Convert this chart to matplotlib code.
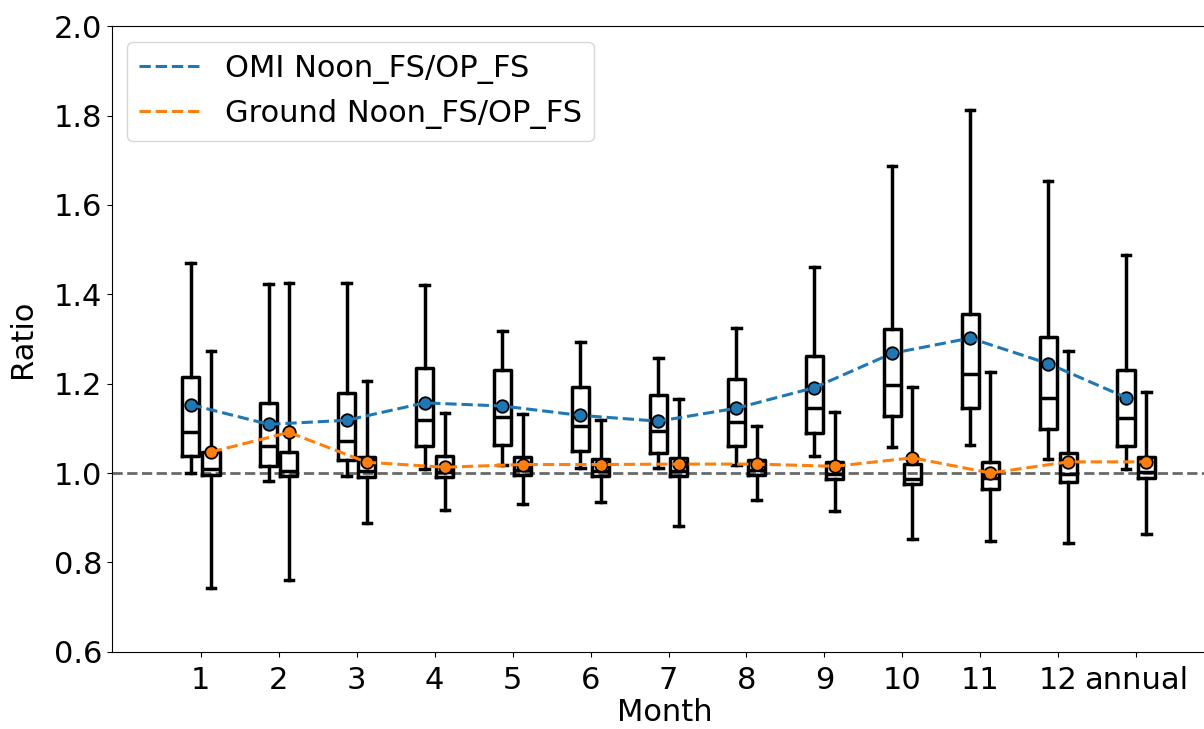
import matplotlib
matplotlib.use("Agg")
import matplotlib.pyplot as plt

labels = ["1", "2", "3", "4", "5", "6", "7", "8", "9", "10", "11", "12", "annual"]

# OMI Noon_FS/OP_FS box stats
omi_whislo = [1.000, 0.983, 0.993, 1.009, 1.017, 1.012, 1.011, 1.017, 1.038, 1.058, 1.062, 1.032, 1.010]
omi_q1 = [1.038, 1.015, 1.029, 1.060, 1.063, 1.050, 1.045, 1.061, 1.090, 1.127, 1.146, 1.098, 1.060]
omi_med = [1.091, 1.060, 1.071, 1.118, 1.126, 1.105, 1.095, 1.115, 1.145, 1.198, 1.222, 1.168, 1.124]
omi_q3 = [1.216, 1.157, 1.179, 1.234, 1.230, 1.193, 1.175, 1.210, 1.261, 1.322, 1.356, 1.305, 1.231]
omi_whishi = [1.470, 1.423, 1.425, 1.420, 1.318, 1.293, 1.258, 1.324, 1.461, 1.688, 1.813, 1.654, 1.488]
omi_mean = [1.153, 1.109, 1.118, 1.157, 1.150, 1.129, 1.116, 1.145, 1.191, 1.268, 1.302, 1.245, 1.169]

# Ground Noon_FS/OP_FS box stats
gnd_whislo = [0.742, 0.760, 0.889, 0.918, 0.931, 0.936, 0.881, 0.940, 0.914, 0.852, 0.847, 0.844, 0.864]
gnd_q1 = [0.996, 0.993, 0.991, 0.991, 0.995, 0.993, 0.993, 0.995, 0.987, 0.975, 0.965, 0.979, 0.989]
gnd_med = [1.010, 1.004, 1.004, 1.002, 1.006, 1.004, 1.004, 1.006, 0.998, 0.986, 0.989, 0.998, 1.002]
gnd_q3 = [1.047, 1.046, 1.036, 1.038, 1.036, 1.031, 1.034, 1.030, 1.024, 1.020, 1.025, 1.045, 1.035]
gnd_whishi = [1.274, 1.425, 1.207, 1.135, 1.131, 1.118, 1.165, 1.105, 1.136, 1.193, 1.225, 1.272, 1.181]
gnd_mean = [1.047, 1.091, 1.024, 1.013, 1.019, 1.019, 1.020, 1.020, 1.015, 1.034, 1.000, 1.025, 1.025]


def make_stats(lo, q1, med, q3, hi, mean):
    return [dict(whislo=a, q1=b, med=c, q3=d, whishi=e, mean=f, fliers=[])
            for a, b, c, d, e, f in zip(lo, q1, med, q3, hi, mean)]


plt.rcParams["font.size"] = 22

fig = plt.figure(figsize=(12.04, 7.29), dpi=100)
ax = fig.add_axes([0.093, 0.106, 0.918, 0.858])

x = list(range(1, len(labels) + 1))
off = 0.13
pos_omi = [i - off for i in x]
pos_gnd = [i + off for i in x]

box_kw = dict(widths=0.22, showmeans=True,
              boxprops=dict(color="k", lw=2.5),
              whiskerprops=dict(color="k", lw=2.5),
              capprops=dict(color="k", lw=2.5),
              medianprops=dict(color="k", lw=2.5))

ax.axhline(1.0, color="dimgray", ls="--", lw=2, zorder=1)

ax.bxp(make_stats(omi_whislo, omi_q1, omi_med, omi_q3, omi_whishi, omi_mean),
       positions=pos_omi,
       meanprops=dict(marker="o", markerfacecolor="tab:blue", markeredgecolor="k",
                      markersize=9, markeredgewidth=1.3),
       **box_kw)
ax.bxp(make_stats(gnd_whislo, gnd_q1, gnd_med, gnd_q3, gnd_whishi, gnd_mean),
       positions=pos_gnd,
       meanprops=dict(marker="o", markerfacecolor="tab:orange", markeredgecolor="k",
                      markersize=9, markeredgewidth=1.3),
       **box_kw)

ax.plot(pos_omi, omi_mean, ls="--", color="tab:blue", lw=2.2, label="OMI Noon_FS/OP_FS", zorder=3)
ax.plot(pos_gnd, gnd_mean, ls="--", color="tab:orange", lw=2.2, label="Ground Noon_FS/OP_FS", zorder=3)

ax.set_xticks(x)
ax.set_xticklabels(labels)
ax.tick_params(axis="x", pad=7)
ax.set_xlim(-0.14, 14.04)
ax.set_ylim(0.6, 2.0)
ax.set_xlabel("Month", labelpad=2)
ax.set_ylabel("Ratio", labelpad=12)
ax.legend(loc="upper left")

fig.savefig("out.png", dpi=100)
